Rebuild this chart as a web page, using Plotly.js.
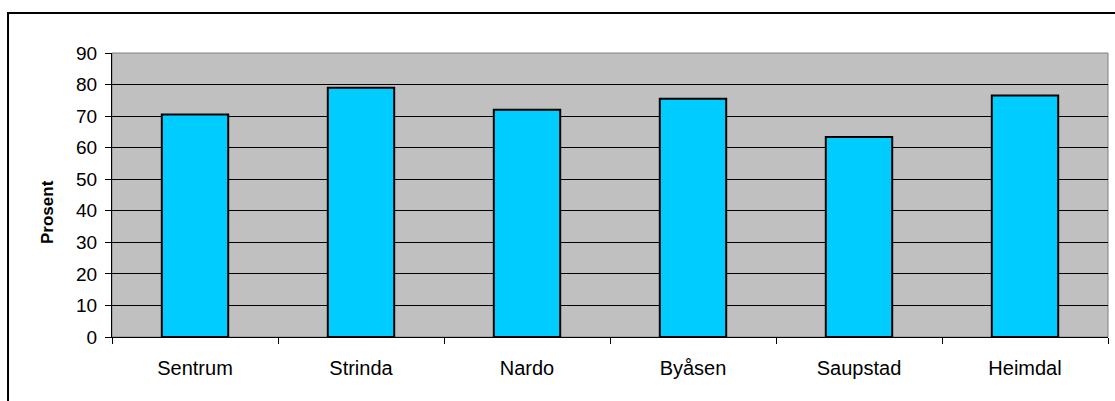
<!DOCTYPE html>
<html><head><meta charset="utf-8">
<script src="https://cdn.plot.ly/plotly-3.0.1.min.js"></script>
<style>html,body{margin:0;padding:0;background:#fff;}#chart{width:1115px;height:401px;}</style>
</head><body><div id="chart"></div>
<script>
const categories = ["Sentrum", "Strinda", "Nardo", "Byåsen", "Saupstad", "Heimdal"];
const values = [70.5, 79.0, 72.0, 75.5, 63.4, 76.5];
const yTicks = [0, 10, 20, 30, 40, 50, 60, 70, 80, 90];
const yTitle = "Prosent";

const trace = {
  type: "bar", x: categories, y: values,
  marker: {color: "#00ccff", line: {color: "#000000", width: 2}},
  width: 0.4, hoverinfo: "x+y"
};
const fam = "Liberation Sans, Arial, sans-serif";
const layout = {
  width: 1115, height: 401,
  margin: {l: 112, r: 7, t: 53, b: 64},
  paper_bgcolor: "#ffffff", plot_bgcolor: "#c0c0c0",
  font: {family: fam, size: 18, color: "#000"}, showlegend: false, bargap: 0.6,
  xaxis: {
    type: "category", tickson: "boundaries", ticks: "outside", ticklen: 6, tickcolor: "#000",
    showline: true, linecolor: "#000", linewidth: 1, showgrid: false,
    tickfont: {family: fam, size: 20, color: "#000"}, ticklabelstandoff: 13, fixedrange: true
  },
  yaxis: {
    range: [0, 90], tickvals: yTicks, ticks: "outside", ticklen: 6, tickcolor: "#000",
    showline: true, linecolor: "#000", linewidth: 1,
    showgrid: true, gridcolor: "#000", gridwidth: 1, zeroline: false,
    tickfont: {family: fam, size: 19, color: "#000"}, ticklabelstandoff: 4,
    fixedrange: true
  },
  annotations: [
    {text: "<b>" + yTitle + "</b>", xref: "paper", yref: "paper", x: -0.0653, y: 0.44,
     xanchor: "center", yanchor: "middle", textangle: -90, showarrow: false,
     font: {family: fam, size: 17, color: "#000"}}
  ],
  shapes: [
    {type: "rect", xref: "paper", yref: "paper", x0: 0, x1: 1, y0: 0, y1: 1,
     line: {color: "#808080", width: 1}, layer: "below"},
    {type: "rect", xref: "paper", yref: "paper", x0: -0.1044, x1: 1.1, y0: -0.4, y1: 1.1408,
     line: {color: "#000", width: 2}, layer: "above"}
  ]
};
Plotly.newPlot("chart", [trace], layout, {displayModeBar: false, staticPlot: true});
</script></body></html>
